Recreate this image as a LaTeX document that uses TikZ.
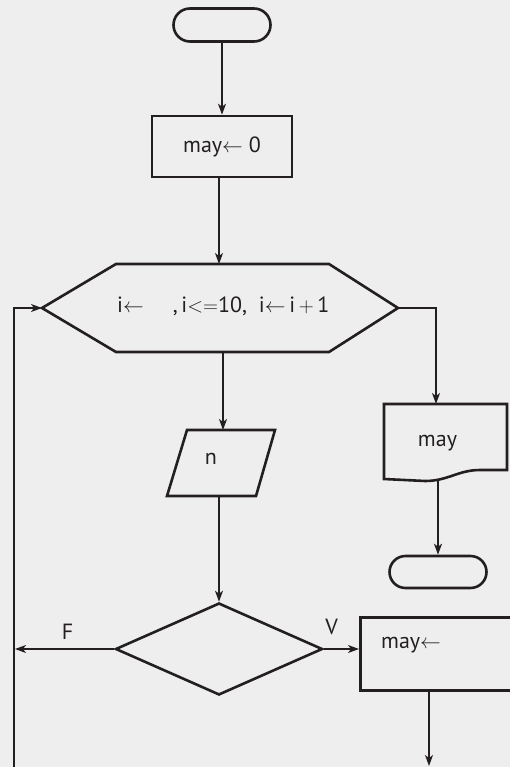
\documentclass[tikz,border=0pt]{standalone}
\usepackage{fontspec}
\setmainfont{PT Sans}
\usetikzlibrary{shapes.misc,shapes.geometric,arrows.meta}
\definecolor{bg}{HTML}{EEEEEE}
\definecolor{ink}{HTML}{231F20}
\begin{document}
\begin{tikzpicture}[x=1pt,y=-1pt,
  shapeline/.style={draw=ink, line width=2.6pt, line join=miter},
  conn/.style={draw=ink, line width=1.3pt},
  arr/.style={conn, -{Stealth[length=11pt,width=8pt,inset=3pt]}},
  lbl/.style={font=\fontsize{22}{26}\selectfont, text=ink, inner sep=0pt},
  term/.style={shapeline, rounded rectangle, minimum width=97pt, minimum height=33pt, inner sep=0pt},
  procbox/.style={shapeline, rectangle, inner sep=0pt},
]
\useasboundingbox (0,0) rectangle (510,767);
\fill[bg] (0,0) rectangle (510,767);
\clip (0,0) rectangle (510,767);

% start
\node[term] (start) at (222,25) {};
% init box
\node[procbox, minimum width=140pt, minimum height=61pt, lbl] (init) at (222,146.5) {may$\leftarrow$ 0};
\coordinate (initB) at (219,177);

% hexagon (for loop)
\draw[shapeline] (42,308) -- (116,264) -- (329,264) -- (398,308) -- (329,352) -- (116,352) -- cycle;
\coordinate (hexL) at (42,308);
\coordinate (hexR) at (398,308);
\coordinate (hexT) at (219,264);
\coordinate (hexB) at (223,352);
\node[lbl, anchor=west] (hextext) at (117,306) {i$\leftarrow$\hspace{29pt},\,i$<$$=$10,\hspace{12pt}i$\leftarrow$\,i\,$+$\,1};

% parallelogram (input n)
\draw[shapeline] (187,430) -- (275,430) -- (256,496) -- (167,496) -- cycle;
\coordinate (parT) at (223,430);
\coordinate (parB) at (219,496);
\node[lbl] (ntext) at (211,459) {n};

% decision
\node[shapeline, diamond, minimum width=207pt, minimum height=92pt, inner sep=0pt] (dec) at (219,649) {};
\node[lbl] (flabel) at (67.5,632) {F};
\node[lbl] (vlabel) at (331.5,627) {V};

% update box
\node[procbox, minimum width=200pt, minimum height=73pt, anchor=north west] (upd) at (359,616) {};
\node[lbl, anchor=west] (updtext) at (381,645) {may$\leftarrow$};
\coordinate (updB) at (429,689);
\coordinate (updEnd) at (429,766);

% loop back line
\coordinate (loopbot) at (14,767);
\coordinate (fend) at (15,649);

% output document
\draw[shapeline] (384,404) -- (507,404) -- (507,470) -- (480,470)
  .. controls (458,470) and (448,481) .. (425,481) -- (384,479) -- cycle;
\coordinate (docT) at (436,404);
\coordinate (docB) at (438,481);
\node[lbl] (doctext) at (437.5,443) {may};

% end
\node[term, minimum height=32pt] (stop) at (438,572) {};

% connectors
\draw[arr] (start.south) -- (init.north);
\draw[arr] (initB) -- (hexT);
\draw[arr] (hexB) -- (parT);
\draw[arr] (parB) -- (dec.north);
\draw[arr] (dec.west) -- (fend);
\draw[arr] (dec.east) -- (dec.east -| upd.west);
\draw[arr] (updB) -- (updEnd);
\draw[arr] (loopbot) |- (hexL);
\draw[arr] (hexR) -| (docT);
\draw[arr] (docB) -- (stop.north);
\end{tikzpicture}
\end{document}
